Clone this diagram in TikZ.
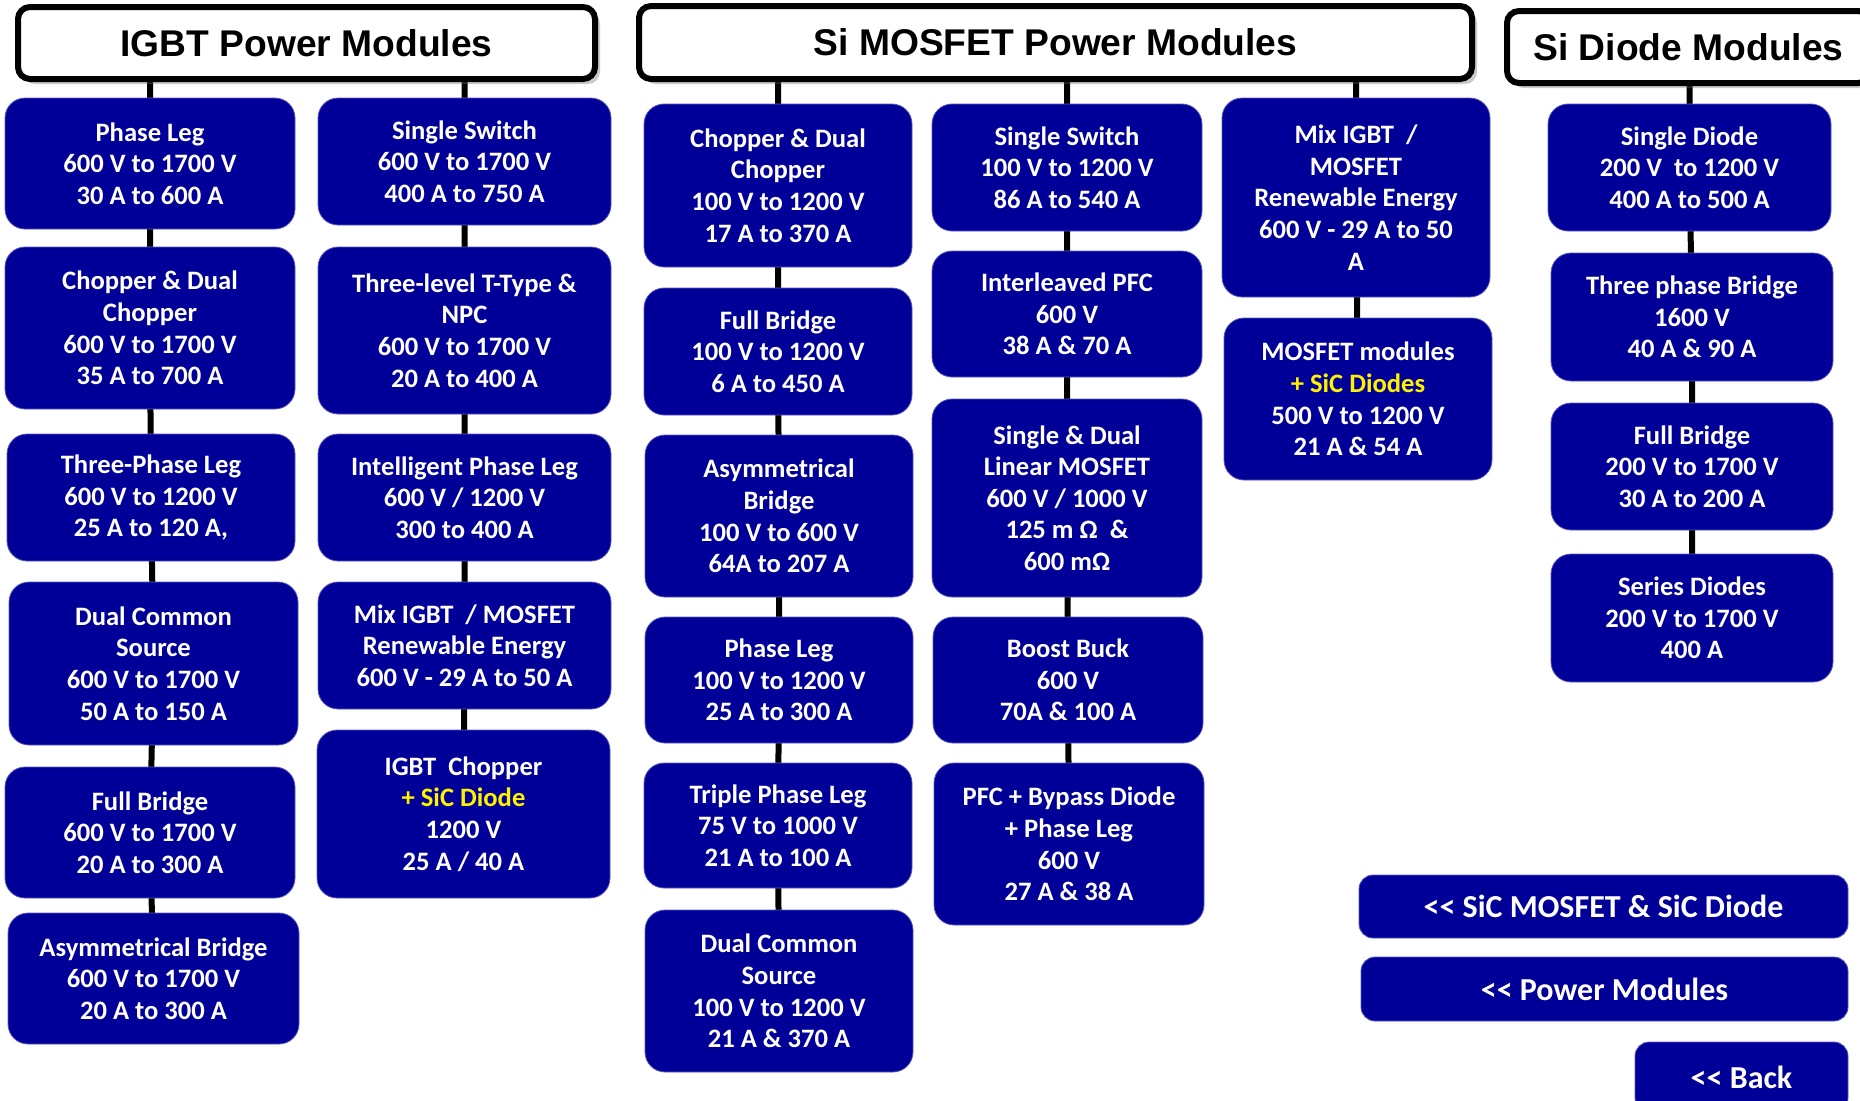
\documentclass[tikz,border=0pt]{standalone}
\usepackage{fontspec}
\setmainfont{Carlito}
\newfontfamily\hdrfont{Liberation Sans}
\usepackage{xcolor}
\usepackage{tikz}
\usetikzlibrary{backgrounds,shadows}
\definecolor{modblue}{RGB}{0,0,153}
\tikzset{
  hdr/.style={rectangle, rounded corners=6pt, draw=black, line width=3pt, fill=white, inner sep=0pt,
    drop shadow={shadow xshift=2.5pt, shadow yshift=-2.5pt, opacity=0.35, fill=black!60},
    font=\hdrfont\bfseries\fontsize{18.6}{22}\selectfont},
  mod/.style={rectangle, rounded corners=10pt, fill=modblue, draw=modblue!65!white, line width=0.4pt,
    inner sep=0pt, text=white, align=center, font=\bfseries\fontsize{13.3}{15.8}\selectfont},
  navbtn/.style={mod, rounded corners=7pt, font=\bfseries\fontsize{16}{19}\selectfont},
  link/.style={line width=3pt, black},
}
% box from its corners, in pixels
\newcommand{\boxat}[7][mod]{%
  \node[#1, minimum width={(#5-#3)*0.5pt}, minimum height={(#6-#4)*0.5pt}]
    (#2) at ({(#3+#5)/2},{(#4+#6)/2}) {#7};}
\newcommand{\sicpart}[1]{\textcolor{yellow}{#1}}
\newcommand{\goback}{<\kern0pt<}

\begin{document}
\begin{tikzpicture}[x=0.5pt, y=-0.5pt]
  \useasboundingbox (0,0) rectangle (1860,1100);
  \clip (0,0) rectangle (1860,1100);

  \boxat[hdr]{h1}{18}{7}{595}{79}{IGBT Power Modules}
  \boxat[hdr]{h2}{639}{6}{1472}{79}{Si MOSFET Power Modules}
  \boxat[hdr]{h3}{1507}{11}{1870}{83}{Si Diode Modules}

  \boxat{c1a}{5}{98}{295}{229}{Phase Leg\\600 V to 1700 V\\30 A to 600 A}
  \boxat{c1b}{5}{247}{295}{409}{Chopper \& Dual\\Chopper\\600 V to 1700 V\\35 A to 700 A}
  \boxat{c1c}{7}{434}{295}{561}{Three-Phase Leg\\600 V to 1200 V\\25 A to 120 A,}
  \boxat{c1d}{9}{582}{298}{745}{Dual Common\\Source\\600 V to 1700 V\\50 A to 150 A}
  \boxat{c1e}{5}{767}{295}{898}{Full Bridge\\600 V to 1700 V\\20 A to 300 A}
  \boxat{c1f}{8}{913}{299}{1044}{Asymmetrical Bridge\\600 V to 1700 V\\20 A to 300 A}

  \boxat{c2a}{318}{98}{611}{225}{Single Switch\\600 V to 1700 V\\400 A to 750 A}
  \boxat{c2b}{318}{247}{611}{414}{Three-level T-Type \&\\NPC\\600 V to 1700 V\\20 A to 400 A}
  \boxat{c2c}{318}{434}{611}{561}{Intelligent Phase Leg\\600 V / 1200 V\\300 to 400 A}
  \boxat{c2d}{318}{582}{611}{709}{Mix IGBT\ \ / MOSFET\\Renewable Energy\\600 V - 29 A to 50 A}
  \boxat{c2e}{317}{730}{610}{898}{IGBT\ \ Chopper\\\sicpart{+ SiC Diode}\\1200 V\\25 A / 40 A}

  \boxat{c3a}{644}{104}{912}{267}{Chopper \& Dual\\Chopper\\100 V to 1200 V\\17 A to 370 A}
  \boxat{c3b}{644}{288}{912}{415}{Full Bridge\\100 V to 1200 V\\6 A to 450 A}
  \boxat{c3c}{645}{435}{913}{597}{Asymmetrical\\Bridge\\100 V to 600 V\\64A to 207 A}
  \boxat{c3d}{645}{617}{913}{743}{Phase Leg\\100 V to 1200 V\\25 A to 300 A}
  \boxat{c3e}{644}{763}{912}{888}{Triple Phase Leg\\75 V to 1000 V\\21 A to 100 A}
  \boxat{c3f}{645}{910}{913}{1072}{Dual Common\\Source\\100 V to 1200 V\\21 A \& 370 A}

  \boxat{c4a}{932}{104}{1202}{231}{Single Switch\\100 V to 1200 V\\86 A to 540 A}
  \boxat{c4b}{932}{251}{1202}{377}{Interleaved PFC\\600 V\\38 A \& 70 A}
  \boxat{c4c}{932}{399}{1202}{597}{Single \& Dual\\Linear MOSFET\\600 V / 1000 V\\125 m Ω\ \ \&\\600 mΩ}
  \boxat{c4d}{933}{617}{1203}{743}{Boost Buck\\600 V\\70A \& 100 A}
  \boxat{c4e}{934}{763}{1204}{925}{PFC + Bypass Diode\\+ Phase Leg\\600 V\\27 A \& 38 A}

  \boxat{c5a}{1222}{98}{1490}{297}{Mix IGBT\ \ /\\MOSFET\\Renewable Energy\\600 V - 29 A to 50\\A}
  \boxat{c5b}{1224}{318}{1492}{480}{MOSFET modules\\\sicpart{+ SiC Diodes}\\500 V to 1200 V\\21 A \& 54 A}

  \boxat{c6a}{1548}{104}{1831}{231}{Single Diode\\200 V\ \ to 1200 V\\400 A to 500 A}
  \boxat{c6b}{1551}{253}{1833}{381}{Three phase Bridge\\1600 V\\40 A \& 90 A}
  \boxat{c6c}{1551}{403}{1833}{530}{Full Bridge\\200 V to 1700 V\\30 A to 200 A}
  \boxat{c6d}{1551}{554}{1833}{682}{Series Diodes\\200 V to 1700 V\\400 A}

  \boxat[navbtn]{b1}{1359}{875}{1848}{938}{\goback{} SiC MOSFET \& SiC Diode}
  \boxat[navbtn]{b2}{1361}{957}{1848}{1021}{\goback{} Power Modules}
  \boxat[navbtn]{b3}{1635}{1042}{1848}{1112}{\goback{} Back}

  \begin{scope}[on background layer]
    \draw[link] (h1.south -| c1a) -- (c1a.center) -- (c1b.center) -- (c1c.center) -- (c1d.center) -- (c1e.center) -- (c1f.center);
    \draw[link] (h1.south -| c2a) -- (c2a.center) -- (c2b.center) -- (c2c.center) -- (c2d.center) -- (c2e.center);
    \draw[link] (h2.south -| c3a) -- (c3a.center) -- (c3b.center) -- (c3c.center) -- (c3d.center) -- (c3e.center) -- (c3f.center);
    \draw[link] (h2.south -| c4a) -- (c4a.center) -- (c4b.center) -- (c4c.center) -- (c4d.center) -- (c4e.center);
    \draw[link] (h2.south -| c5a) -- (c5a.center) -- (c5b.center);
    \draw[link] (h3.south -| c6a) -- (c6a.center) -- (c6b.center) -- (c6c.center) -- (c6d.center);
  \end{scope}
\end{tikzpicture}
\end{document}
